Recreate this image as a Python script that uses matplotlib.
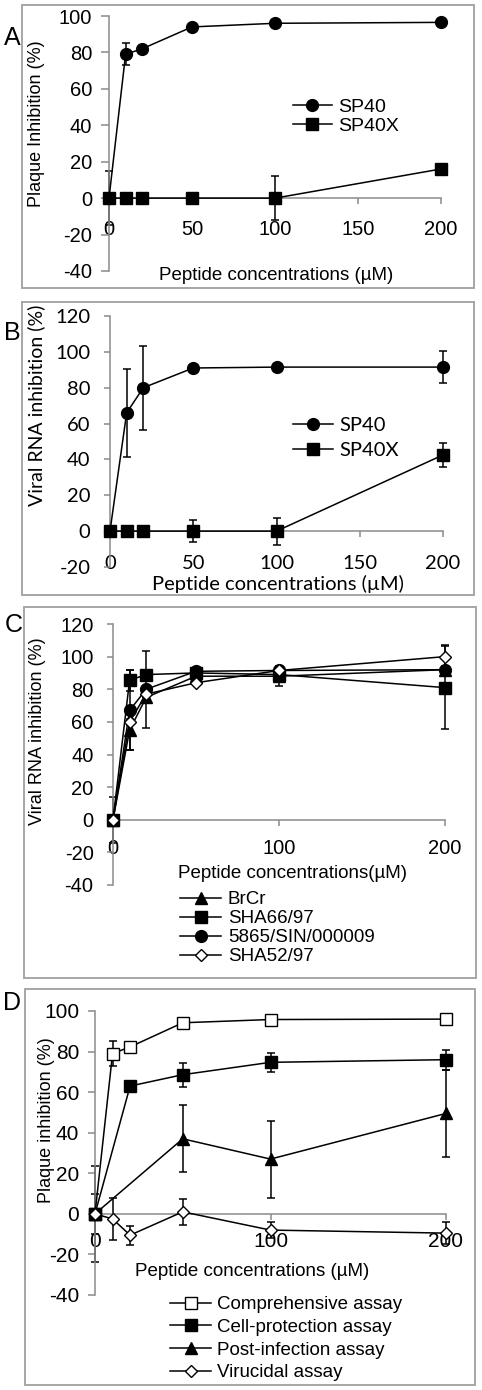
import matplotlib
matplotlib.use('Agg')
import matplotlib.pyplot as plt
from matplotlib.patches import Rectangle
from matplotlib.lines import Line2D

plt.rcParams['font.family'] = ['Liberation Sans', 'DejaVu Sans']
plt.rcParams['axes.unicode_minus'] = False

# ---- data ----
conc = [0, 10, 20, 50, 100, 200]

# panel A
a_sp40 = [0, 79, 82, 94, 96, 96.5]
a_sp40_err = [15, 6, 0, 0, 0, 0]
a_sp40x = [0, 0, 0, 0, 0, 16]
a_sp40x_err = [0, 0, 0, 0, 12, 0]

# panel B
b_sp40 = [0, 66, 80, 91, 91.5, 91.5]
b_sp40_err = [0, 24.5, 23.5, 1, 2, 9]
b_sp40x = [0, 0, 0, 0, 0, 42.5]
b_sp40x_err = [0, 0, 0, 6, 7.5, 6.5]

# panel C
c_labels = ['BrCr', 'SHA66/97', '5865/SIN/000009', 'SHA52/97']
c_brcr = [0, 55, 75, 88, 88, 92]
c_brcr_err = [0, 12, 0, 0, 6, 0]
c_sha66 = [0, 85.5, 89, 90, 89, 81]
c_sha66_err = [0, 6.5, 0, 1, 2, 25.5]
c_5865 = [0, 67, 80, 91, 91.5, 92]
c_5865_err = [14, 24.5, 23.5, 1, 2, 2]
c_sha52 = [0, 60, 77, 84, 91.5, 100]
c_sha52_err = [0, 2, 2, 1, 2, 7]

# panel D
d_labels = ['Comprehensive assay', 'Cell-protection assay', 'Post-infection assay', 'Virucidal assay']
d_comp_x = [0, 10, 20, 50, 100, 200]
d_comp = [0, 79, 82.3, 94.2, 95.8, 96]
d_comp_err = [23.5, 6, 0, 0, 0, 0]
d_cell_x = [0, 20, 50, 100, 200]
d_cell = [0, 63, 68.6, 74.7, 76]
d_cell_err = [10, 0, 6, 4.6, 5]
d_post_x = [0, 50, 100, 200]
d_post = [0, 37, 27, 49.5]
d_post_err = [0, 16.5, 19, 21.5]
d_viru_x = [0, 10, 20, 50, 100, 200]
d_viru = [0, -2.5, -10.5, 1, -8, -9.5]
d_viru_err = [0, 10.5, 4.7, 6.5, 4, 5.5]

GRAY = '#8a8a8a'
BOX = '#a6a6a6'
W, H = 482, 1390
fig = plt.figure(figsize=(W / 100, H / 100), dpi=100)


def fx(x):
    return x / W


def fy(y):
    return 1 - y / H


def box(x0, y0, x1, y1):
    fig.add_artist(Rectangle((fx(x0), fy(y1)), (x1 - x0) / W, (y1 - y0) / H,
                             transform=fig.transFigure, fill=False,
                             edgecolor=BOX, lw=1.4))


def make_ax(xl, xr, yt, yb, ymin, ymax, xticks, yticks, fs, ylen, ypad, xpad, family=None):
    ax = fig.add_axes([fx(xl), fy(yb), (xr - xl) / W, (yb - yt) / H])
    ax.set_xlim(0, 200)
    ax.set_ylim(ymin, ymax)
    ax.patch.set_visible(False)
    for s in ['top', 'right']:
        ax.spines[s].set_visible(False)
    ax.spines['bottom'].set_position(('data', 0))
    ax.spines['left'].set_color(GRAY)
    ax.spines['bottom'].set_color(GRAY)
    ax.spines['left'].set_linewidth(1.1)
    ax.spines['bottom'].set_linewidth(1.1)
    ax.set_xticks(xticks)
    ax.set_yticks(yticks)
    ax.tick_params(axis='y', direction='out', length=ylen, width=1.1, color=GRAY, pad=ypad, labelsize=fs)
    ax.tick_params(axis='x', direction='out', length=4, width=1.1, color=GRAY, pad=xpad, labelsize=fs)
    if family:
        for t in ax.get_xticklabels() + ax.get_yticklabels():
            t.set_fontfamily(family)
    return ax


def series(ax, x, y, err, marker, ms, label, face='k'):
    eb = ax.errorbar(x, y, yerr=err, fmt='none', ecolor='k', elinewidth=1.1,
                     capsize=3, capthick=1.1, zorder=2)
    for art in eb.lines[1] + eb.lines[2]:
        art.set_clip_on(False)
    ln, = ax.plot(x, y, '-', color='k', lw=1.1, marker=marker, ms=ms,
                  mfc=face, mec='k', mew=1.0, label=label, zorder=3, clip_on=False)
    return ln


# ---------------- A ----------------
box(22, 5, 474, 288)
ax = make_ax(109, 441, 16, 271, -40, 100, [0, 50, 100, 150, 200],
             range(-40, 101, 20), 14.5, 6, 6, 12)
series(ax, conc, a_sp40x, a_sp40x_err, 's', 8.5, 'SP40X')
series(ax, conc, a_sp40, a_sp40_err, 'o', 8.5, 'SP40')
h = [Line2D([], [], color='k', lw=1.1, marker='o', ms=8.5),
     Line2D([], [], color='k', lw=1.1, marker='s', ms=8.5)]
fig.legend(h, ['SP40', 'SP40X'], loc='upper left', bbox_to_anchor=(fx(293), fy(98)),
           frameon=False, fontsize=14, handlelength=2.0, handletextpad=0.3,
           labelspacing=0.1, borderpad=0, borderaxespad=0)
fig.text(fx(12), fy(38), 'A', fontsize=18, ha='center', va='center')
fig.text(fx(37), fy(124), 'Plaque Inhibition (%)', fontsize=13, rotation=90, ha='center', va='center')
fig.text(fx(276), fy(276), 'Peptide concentrations (µM)', fontsize=13.5, ha='center', va='center')

# ---------------- B ----------------
box(22, 302, 474, 595)
ax = make_ax(110, 443, 316, 567, -20, 120, [0, 50, 100, 150, 200],
             range(-20, 121, 20), 14.5, 4, 10, 13, family='Lato')
series(ax, conc, b_sp40x, b_sp40x_err, 's', 8.5, 'SP40X')
series(ax, conc, b_sp40, b_sp40_err, 'o', 8.5, 'SP40')
fig.legend(h, ['SP40', 'SP40X'], loc='upper left', bbox_to_anchor=(fx(293), fy(417)),
           frameon=False, handlelength=2.0, handletextpad=0.3,
           labelspacing=0.4, borderpad=0, borderaxespad=0, prop={'family': 'Lato', 'size': 14.5})
fig.text(fx(12), fy(333), 'B', fontsize=18, ha='center', va='center')
fig.text(fx(36), fy(405), 'Viral RNA inhibition (%)', fontsize=14, rotation=90,
         ha='center', va='center', family='Lato')
fig.text(fx(278), fy(584), 'Peptide concentrations (µM)', fontsize=14.5, ha='center', va='center',
         family='Lato')

# ---------------- C ----------------
box(24, 607, 476, 978)
ax = make_ax(113, 445, 624, 885, -40, 120, [0, 100, 200],
             range(-40, 121, 20), 14.5, 4.5, 9.5, 10)
lc = [series(ax, conc, c_brcr, c_brcr_err, '^', 9, c_labels[0]),
      series(ax, conc, c_sha66, c_sha66_err, 's', 8.5, c_labels[1]),
      series(ax, conc, c_5865, c_5865_err, 'o', 8.5, c_labels[2]),
      series(ax, conc, c_sha52, c_sha52_err, 'D', 6.5, c_labels[3], face='white')]
fig.legend(lc, c_labels, loc='upper left', bbox_to_anchor=(fx(180), fy(891)),
           frameon=False, fontsize=13.5, handlelength=2.2, handletextpad=0.35,
           labelspacing=0.1, borderpad=0, borderaxespad=0)
fig.text(fx(14), fy(625), 'C', fontsize=18, ha='center', va='center')
fig.text(fx(38), fy(731), 'Viral RNA inhibition (%)', fontsize=13, rotation=90, ha='center', va='center')
fig.text(fx(292), fy(874), 'Peptide concentrations(µM)', fontsize=13.5, ha='center', va='center')

# ---------------- D ----------------
box(25, 989, 475, 1385)
ax = make_ax(95, 446, 1011, 1295, -40, 100, [0, 100, 200],
             range(-40, 101, 20), 15, 5, 6.5, 9)
ld = [series(ax, d_comp_x, d_comp, d_comp_err, 's', 8.5, d_labels[0], face='white'),
      series(ax, d_cell_x, d_cell, d_cell_err, 's', 8.5, d_labels[1]),
      series(ax, d_post_x, d_post, d_post_err, '^', 9, d_labels[2]),
      series(ax, d_viru_x, d_viru, d_viru_err, 'D', 6.5, d_labels[3], face='white')]
fig.legend(ld, d_labels, loc='upper left', bbox_to_anchor=(fx(170), fy(1296)),
           frameon=False, fontsize=13.5, handlelength=2.2, handletextpad=0.3,
           labelspacing=0.3, borderpad=0, borderaxespad=0)
fig.text(fx(12), fy(1003), 'D', fontsize=18, ha='center', va='center')
fig.text(fx(47), fy(1120), 'Plaque inhibition (%)', fontsize=13, rotation=90, ha='center', va='center')
fig.text(fx(252), fy(1272), 'Peptide concentrations (µM)', fontsize=13.5, ha='center', va='center')

fig.savefig('out.png', dpi=100)
